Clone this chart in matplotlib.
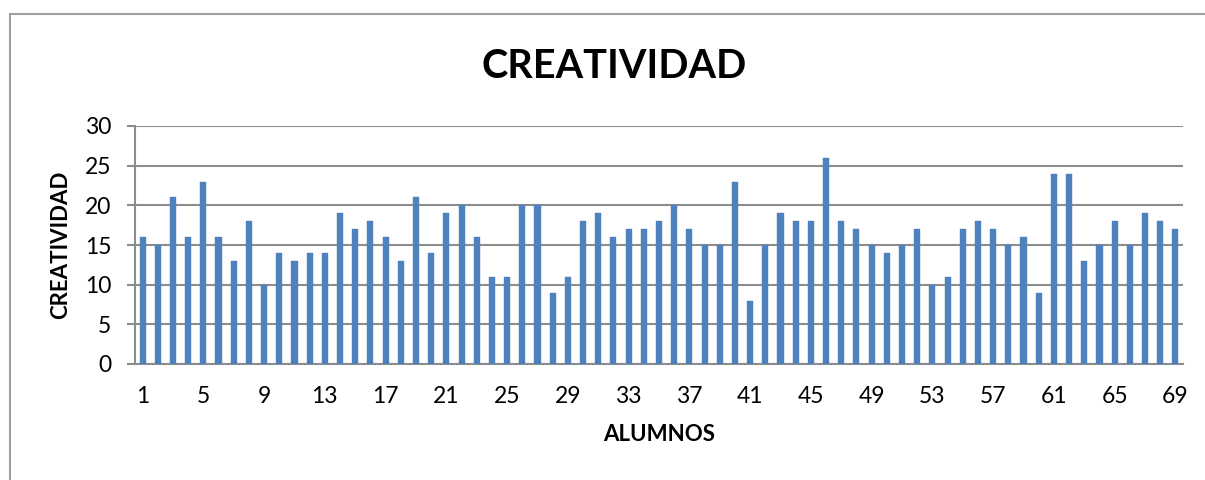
import matplotlib
matplotlib.use("Agg")
import matplotlib.pyplot as plt
from matplotlib.patches import Rectangle

alumnos = list(range(1, 70))
creatividad = [16, 15, 21, 16, 23, 16, 13, 18, 10, 14, 13, 14, 14, 19, 17, 18, 16, 13, 21, 14,
               19, 20, 16, 11, 11, 20, 20, 9, 11, 18, 19, 16, 17, 17, 18, 20, 17, 15, 15, 23,
               8, 15, 19, 18, 18, 26, 18, 17, 15, 14, 15, 17, 10, 11, 17, 18, 17, 15, 16, 9,
               24, 24, 13, 15, 18, 15, 19, 18, 17]
yticks = [0, 5, 10, 15, 20, 25, 30]
xtick_labels = [str(i) for i in range(1, 70, 4)]

plt.rcParams['font.family'] = ['Lato', 'DejaVu Sans']

W, H = 1205, 480
fig = plt.figure(figsize=(W / 100, H / 100), dpi=100)
fig.patch.set_facecolor('white')

# outer chart border
fig.patches.append(Rectangle((10 / W, -0.1), 1.2, (H - 14) / H + 0.1, transform=fig.transFigure,
                             fill=False, edgecolor='#a0a0a0', linewidth=1.5))

ax = fig.add_axes([135 / W, 1 - 364 / H, (1183 - 135) / W, (364 - 126) / H])
grid_c = '#8c8c8c'
x = list(range(len(alumnos)))
ax.bar(x, creatividad, width=0.4, color='#4f81bd', edgecolor='#4f81bd', linewidth=0.3, zorder=3)
ax.set_xlim(-0.5, len(alumnos) - 0.5)
ax.set_ylim(0, 30)
ax.set_yticks(yticks)
ax.yaxis.grid(True, color=grid_c, linewidth=1.5, zorder=0)
ax.set_axisbelow(True)
ax.set_xticks(list(range(0, 69, 4)))
ax.set_xticklabels(xtick_labels)
for s in ['top', 'right']:
    ax.spines[s].set_visible(False)
ax.spines['left'].set_color(grid_c)
ax.spines['bottom'].set_color(grid_c)
ax.spines['left'].set_linewidth(1.5)
ax.spines['bottom'].set_linewidth(1.5)
ax.tick_params(axis='y', length=6, width=1.5, color=grid_c, labelsize=16.5, pad=11)
ax.tick_params(axis='x', length=0, labelsize=16.5, pad=16)

ax.set_xlabel('ALUMNOS', fontsize=16, fontweight='bold', labelpad=12)
ax.set_ylabel('CREATIVIDAD', fontsize=16, fontweight='bold', labelpad=10)
fig.text(614 / W, 1 - 66 / H, 'CREATIVIDAD', ha='center', va='center', fontsize=28.5, fontweight='bold')

fig.savefig('out.png', dpi=100)
